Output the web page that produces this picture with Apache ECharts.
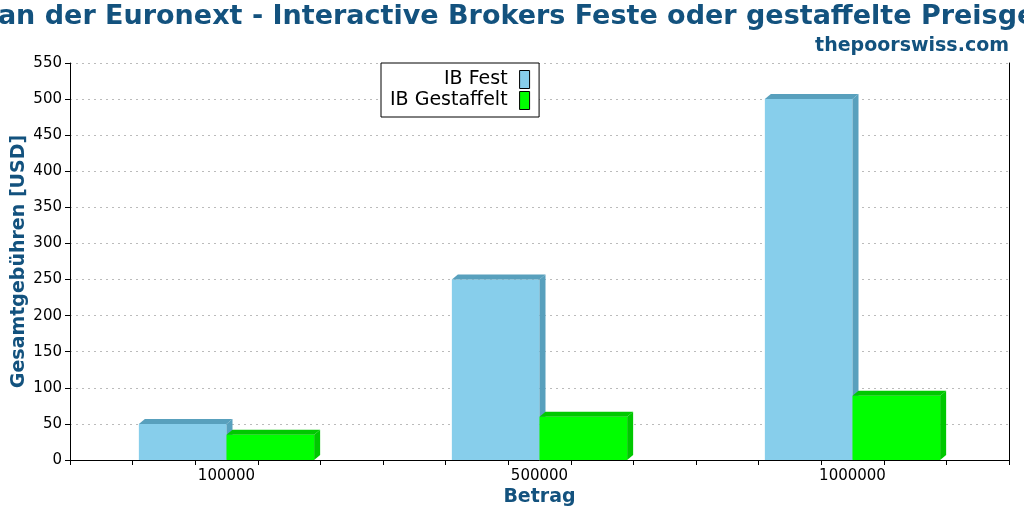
<!DOCTYPE html>
<html>
<head>
<meta charset="utf-8">
<script src="https://cdn.jsdelivr.net/npm/echarts@6/dist/echarts.min.js"></script>
<style>
  html, body { margin: 0; padding: 0; background: #fff; }
  #chart { width: 1024px; height: 512px; }
</style>
</head>
<body>
<div id="chart"></div>
<script>
// Daten
var categories = ['100000', '500000', '1000000']
var ibFest = [50, 250, 500]
var ibGestaffelt = [35, 60, 89]
var yTicks = { min: 0, max: 550, step: 50 }

var blue = '#13527e'
var font = 'DejaVu Sans'
var titleText = 'Gebühren an der Euronext - Interactive Brokers Feste oder gestaffelte Preisgestaltung'
var titleFont = 'bold 27px "DejaVu Sans"'

// Titel ragt links und rechts über den Rand hinaus:
// Mitte zwischen "Euronext" und "Preisge..." soll bei x=513 liegen
var ctx = document.createElement('canvas').getContext('2d')
ctx.font = titleFont
var wE = ctx.measureText('Gebühren an der ').width
var wP = ctx.measureText('Gebühren an der Euronext - Interactive Brokers Feste oder gestaffelte ').width
var titleLeft = 513 - (wE + wP) / 2

// 3D-Balken mit Tiefe
function makeRender(side, front, depth) {
  return function (params, api) {
    var idx = api.value(0)
    var val = api.value(1)
    var top = api.coord([idx, val])
    var base = api.coord([idx, 0])
    var bw = api.size([1, 0])[0] * 0.28
    var x0 = side === 0 ? top[0] - bw : top[0]
    var x1 = x0 + bw
    var y0 = top[1]
    var y1 = base[1]
    var dx = 6
    var dy = 5
    return {
      type: 'group',
      children: [
        { type: 'rect', shape: { x: x0, y: y0, width: bw, height: y1 - y0 }, style: { fill: front } },
        { type: 'polygon', shape: { points: [[x0, y0], [x0 + dx, y0 - dy], [x1 + dx, y0 - dy], [x1, y0]] }, style: { fill: depth } },
        { type: 'polygon', shape: { points: [[x1, y0], [x1 + dx, y0 - dy], [x1 + dx, y1 - dy], [x1, y1]] }, style: { fill: depth } },
      ],
    }
  }
}

function toData(arr) {
  return arr.map(function (v, i) { return [i, v] })
}

var chart = echarts.init(document.getElementById('chart'))
chart.setOption({
  animation: false,
  backgroundColor: '#fff',
  graphic: [
    {
      type: 'text',
      x: titleLeft,
      y: 17,
      style: {
        text: titleText,
        font: titleFont,
        fill: blue,
        verticalAlign: 'middle',
        align: 'left',
      },
    },
  ],
  title: [
    {
      text: 'thepoorswiss.com',
      right: 10,
      top: 32,
      textStyle: { fontFamily: font, fontSize: 19, fontWeight: 'bold', color: blue },
    },
  ],
  legend: {
    orient: 'vertical',
    left: 381,
    top: 63,
    align: 'right',
    padding: [7, 9, 7, 9],
    itemGap: 2,
    itemWidth: 10,
    itemHeight: 18,
    backgroundColor: '#fff',
    borderColor: '#000',
    borderWidth: 1,
    borderRadius: 0,
    textStyle: { fontFamily: font, fontSize: 19, color: '#000', padding: [0, 7, 0, 0] },
    data: [
      { name: 'IB Fest', icon: 'rect', itemStyle: { color: '#87ceeb', borderColor: '#000', borderWidth: 1 } },
      { name: 'IB Gestaffelt', icon: 'rect', itemStyle: { color: '#00ff00', borderColor: '#000', borderWidth: 1 } },
    ],
  },
  grid: { left: 70, right: 15, top: 63, bottom: 52, outerBoundsMode: 'none' },
  xAxis: [
    {
      type: 'category',
      data: categories,
      boundaryGap: true,
      name: 'Betrag',
      nameLocation: 'middle',
      nameGap: 28,
      nameMoveOverlap: false,
      nameTextStyle: { fontFamily: font, fontSize: 19, fontWeight: 'bold', color: blue },
      axisLine: { lineStyle: { color: '#000', width: 1 } },
      axisTick: { show: false },
      axisLabel: { fontFamily: font, fontSize: 15, color: '#000', margin: 9 },
      splitLine: { show: false },
    },
    {
      type: 'value',
      min: 0,
      max: 15,
      interval: 1,
      position: 'bottom',
      axisLine: { show: false },
      axisTick: { show: true, length: 5, lineStyle: { color: '#000' } },
      axisLabel: { show: false },
      splitLine: { show: false },
    },
  ],
  yAxis: [
    {
      type: 'value',
      min: yTicks.min,
      max: yTicks.max,
      interval: yTicks.step,
      name: 'Gesamtgebühren [USD]',
      nameLocation: 'middle',
      nameGap: 41,
      nameMoveOverlap: false,
      nameTextStyle: { fontFamily: font, fontSize: 19, fontWeight: 'bold', color: blue },
      axisLine: { show: true, lineStyle: { color: '#000', width: 1 } },
      axisTick: { show: true, length: 5, lineStyle: { color: '#000' } },
      axisLabel: { fontFamily: font, fontSize: 15, color: '#000', margin: 8 },
      splitLine: { show: true, lineStyle: { color: '#bbb', type: [2, 4] } },
    },
    {
      type: 'value',
      min: yTicks.min,
      max: yTicks.max,
      interval: yTicks.step,
      position: 'right',
      axisLine: { show: true, lineStyle: { color: '#000', width: 1 } },
      axisTick: { show: false },
      axisLabel: { show: false },
      splitLine: { show: false },
    },
  ],
  series: [
    {
      name: 'IB Fest',
      type: 'custom',
      xAxisIndex: 0,
      yAxisIndex: 0,
      itemStyle: { color: '#87ceeb' },
      renderItem: makeRender(0, '#87ceeb', '#58a0bd'),
      encode: { x: 0, y: 1 },
      data: toData(ibFest),
      z: 3,
    },
    {
      name: 'IB Gestaffelt',
      type: 'custom',
      xAxisIndex: 0,
      yAxisIndex: 0,
      itemStyle: { color: '#00ff00' },
      renderItem: makeRender(1, '#00ff00', '#00c800'),
      encode: { x: 0, y: 1 },
      data: toData(ibGestaffelt),
      z: 4,
    },
  ],
})
</script>
</body>
</html>
